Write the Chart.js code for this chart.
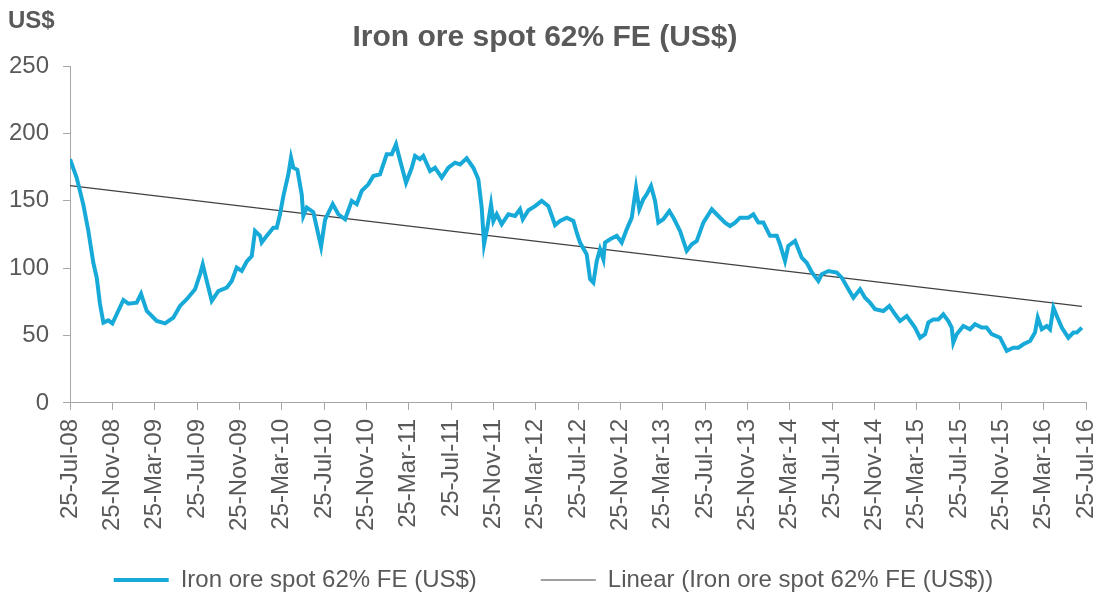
<!DOCTYPE html>
<html>
<head>
<meta charset="utf-8">
<script src="https://cdn.jsdelivr.net/npm/chart.js@4/dist/chart.umd.min.js"></script>
<style>
  html, body { margin: 0; padding: 0; background: #fff; }
  #wrap { width: 1100px; height: 595px; }
</style>
</head>
<body>
<div id="wrap"><canvas id="myChart"></canvas></div>
<script>
'use strict'
// months after 25-Jul-08 and the spot price
let months = [0, 0.63, 1.26, 1.73, 2.2, 2.52, 2.83, 3.15, 3.62, 4.0, 4.41, 5.04, 5.51, 6.3, 6.71, 7.25, 8.19, 8.98, 9.76, 10.39,
  11.03, 11.81, 12.28, 12.54, 12.92, 13.39, 14.01, 14.81, 15.28, 15.75, 16.22, 16.7, 17.17, 17.48, 17.95, 18.11, 18.59, 19.21, 19.53, 19.84,
  20.16, 20.63, 20.88, 21.1, 21.48, 21.89, 22.04, 22.37, 22.99, 23.46, 23.72, 24.1, 24.82, 25.35, 25.99, 26.62, 27.09, 27.56, 28.19, 28.66,
  29.29, 29.92, 30.4, 30.8, 31.12, 31.75, 32.29, 32.6, 33.07, 33.38, 34.02, 34.49, 35.12, 35.75, 36.38, 36.85, 37.48, 38.11, 38.58, 38.9,
  39.12, 39.43, 39.78, 40.0, 40.32, 40.79, 41.42, 42.05, 42.52, 42.78, 43.31, 43.94, 44.57, 45.2, 45.83, 46.3, 46.93, 47.56, 47.88, 48.19,
  48.82, 49.14, 49.45, 49.77, 50.08, 50.4, 50.55, 51.03, 51.66, 52.13, 52.6, 53.08, 53.48, 53.79, 54.17, 54.49, 54.9, 55.28, 55.59, 56.06,
  56.63, 57.01, 57.64, 58.27, 58.75, 59.22, 59.84, 60.64, 61.26, 61.89, 62.36, 62.84, 63.31, 64.09, 64.57, 65.04, 65.51, 66.14, 66.78, 67.09,
  67.56, 67.87, 68.51, 69.14, 69.61, 70.09, 70.71, 71.03, 71.66, 72.45, 72.92, 73.55, 74.02, 74.65, 75.12, 75.59, 76.07, 76.85, 77.42, 77.96,
  78.43, 79.06, 79.84, 80.32, 80.79, 81.1, 81.57, 82.05, 82.52, 82.99, 83.31, 83.46, 83.78, 84.41, 85.04, 85.51, 86.14, 86.61, 87.09, 87.88,
  88.51, 89.13, 89.61, 90.08, 90.71, 91.18, 91.44, 91.82, 92.29, 92.6, 92.92, 93.24, 93.71, 94.33, 94.81, 95.13, 95.61];
let prices = [180.8, 167, 147, 127.6, 104, 93, 73.4, 59.6, 61.3, 59, 65.8, 76.4, 73.7, 74.4, 81, 68.2, 60.8, 59, 63.3, 72,
  77, 84.3, 95.4, 102.8, 90.5, 75.7, 83, 85.5, 90.5, 100.4, 98, 105, 109, 127.6, 124, 119, 124, 130, 130, 140,
  153.6, 169.7, 182, 174.5, 173, 154.8, 138.7, 145, 141.5, 125, 116, 136, 147.6, 140, 136.3, 149.9, 147.4, 157.3, 162.2, 168.4,
  169.7, 184.5, 184.5, 191.9, 182, 163.4, 174.5, 183.2, 180.8, 183.2, 172.1, 174.5, 167.1, 174.5, 178.3, 177, 181.5, 174.5, 166, 144.9,
  117.7, 130, 147.4, 135, 140, 132.6, 140, 138.7, 143.7, 136.3, 143, 146, 149.9, 146, 132, 135, 137.5, 135, 126.3, 119,
  110.3, 91.8, 89.2, 105.3, 114, 106.5, 119, 121.4, 124, 119, 128.8, 137.5, 159.7, 143.7, 151.1, 154.8, 161, 149.9, 133.8, 136.3,
  142.4, 137.5, 127.6, 112.8, 117.7, 120.2, 133.8, 143.7, 138.7, 133.8, 131.3, 133.8, 137.5, 137.5, 140, 133.8, 133.8, 124, 124, 117.7,
  105.3, 116.5, 120.2, 107.8, 104, 97, 90.5, 95.5, 97.9, 96.7, 93, 84.3, 78.1, 84.3, 78.1, 74.4, 69.5, 68.2, 72, 65.8,
  60.8, 64.5, 55.9, 48.4, 51, 59.6, 62, 62, 65.8, 60.8, 55.9, 44.7, 51, 57.1, 54.7, 58.4, 55.9, 55.9, 51, 48.4,
  38.6, 41, 41, 43.5, 46, 52.2, 63.3, 54.7, 57.1, 54.7, 70.7, 64.5, 55.9, 48.4, 52.2, 52.2, 55.9];

// Excel linear trendline, ends
let trendMonths = [0, 95.61];
let trendValues = [161.3, 71.6];

let tickLabels = ['25-Jul-08', '25-Nov-08', '25-Mar-09', '25-Jul-09', '25-Nov-09', '25-Mar-10', '25-Jul-10', '25-Nov-10',
  '25-Mar-11', '25-Jul-11', '25-Nov-11', '25-Mar-12', '25-Jul-12', '25-Nov-12', '25-Mar-13', '25-Jul-13', '25-Nov-13',
  '25-Mar-14', '25-Jul-14', '25-Nov-14', '25-Mar-15', '25-Jul-15', '25-Nov-15', '25-Mar-16', '25-Jul-16'];

let chartTitle = 'Iron ore spot 62% FE (US$)';
let seriesName = 'Iron ore spot 62% FE (US$)';
let trendName = 'Linear (Iron ore spot 62% FE (US$))';

let fontName = "'Liberation Sans', Arial, sans-serif";
let textColor = '#595959';
let axisColor = '#A6A6A6';

let xShrink = 43;     // part of the x label box the legend may overlap
let legendShift = 7;

let priceData = [];
for (let i = 0; i < months.length; i++) {
  priceData.push({x: months[i], y: prices[i]});
}
let trendData = [];
for (let i = 0; i < trendMonths.length; i++) {
  trendData.push({x: trendMonths[i], y: trendValues[i]});
}

// title and the "US$" unit label, drawn where the reference has them
let headerText = {
  id: 'headerText',
  afterLayout(chart) {
    // give the x labels their full box back for clipping, nudge the legend down
    chart.scales.x.bottom += xShrink;
    chart.scales.x.height += xShrink;
    chart.legend.top += legendShift;
    chart.legend.bottom += legendShift;
  },
  afterDraw(chart) {
    let ctx = chart.ctx;
    ctx.save();
    ctx.fillStyle = textColor;
    ctx.textBaseline = 'middle';
    ctx.textAlign = 'left';
    ctx.font = 'bold 24px ' + fontName;
    ctx.fillText('US$', 8, 21);
    ctx.textAlign = 'center';
    ctx.font = 'bold 30px ' + fontName;
    ctx.fillText(chartTitle, 545, 38);
    ctx.restore();
  }
};

let ctx = document.getElementById('myChart').getContext('2d');
let myChart = new Chart(ctx, {
  type: 'line',
  data: {
    datasets: [{
      label: seriesName,
      data: priceData,
      borderColor: '#17AAD9',
      backgroundColor: '#17AAD9',
      borderWidth: 4,
      pointRadius: 0,
      tension: 0
    }, {
      label: trendName,
      data: trendData,
      borderColor: '#404040',
      backgroundColor: '#404040',
      borderWidth: 1.2,
      pointRadius: 0,
      tension: 0
    }]
  },
  options: {
    responsive: true,
    maintainAspectRatio: false,
    animation: false,
    layout: {
      padding: {left: 7, right: 0, top: 66, bottom: 0}
    },
    plugins: {
      title: {display: false},
      legend: {
        position: 'bottom',
        labels: {
          color: textColor,
          font: {family: fontName, size: 24},
          usePointStyle: true,
          pointStyle: 'line',
          pointStyleWidth: 55,
          padding: 64
        }
      },
      tooltip: {enabled: false}
    },
    scales: {
      x: {
        type: 'linear',
        min: 0,
        max: 96,
        grid: {display: true, drawOnChartArea: false, color: axisColor, tickLength: 7},
        border: {display: true, color: axisColor, width: 1},
        ticks: {
          stepSize: 4,
          autoSkip: false,
          maxRotation: 90,
          minRotation: 90,
          padding: 9,
          color: textColor,
          font: {family: fontName, size: 24},
          callback: function (value) {
            return tickLabels[Math.round(value / 4)];
          }
        },
        afterFit: function (scale) {
          scale.paddingLeft = 0;
          scale.paddingRight = 14;
          scale.height -= xShrink;
        }
      },
      y: {
        min: 0,
        max: 250,
        grid: {display: true, drawOnChartArea: false, color: axisColor, tickLength: 7},
        border: {display: true, color: axisColor, width: 1},
        ticks: {
          stepSize: 50,
          padding: 14,
          color: textColor,
          font: {family: fontName, size: 24}
        },
        afterFit: function (scale) {
          scale.width -= 12;
        }
      }
    }
  },
  plugins: [headerText]
});
</script>
</body>
</html>
